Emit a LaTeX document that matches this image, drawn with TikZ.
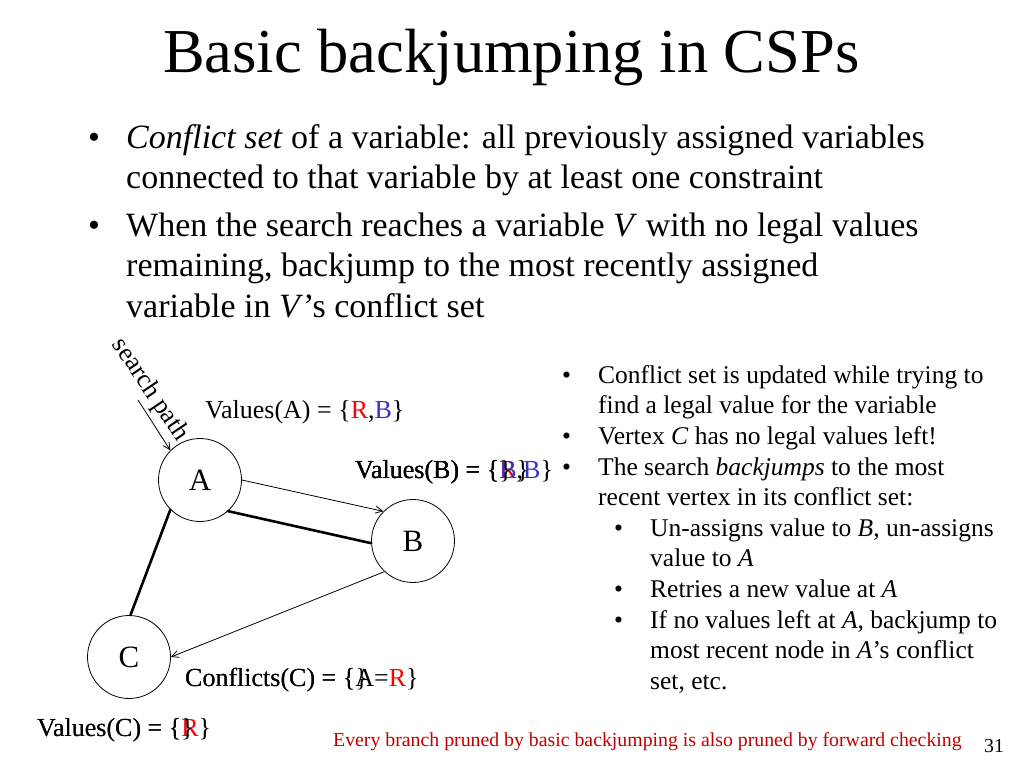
\documentclass[tikz,border=0pt]{standalone}
\usepackage{fontspec}
\setmainfont{Liberation Serif}
\usetikzlibrary{arrows.meta}
\definecolor{valred}{HTML}{FF0000}
\definecolor{valblue}{HTML}{3333CC}
\definecolor{footred}{HTML}{C00000}
\tikzset{
  vert/.style={draw, circle, line width=0.8pt, minimum size=83pt, inner sep=0pt, font=\fontsize{31}{31}\selectfont},
  cons/.style={draw, line width=2.6pt, line cap=round},
  move/.style={draw, line width=0.8pt, -{Straight Barb[length=7pt,width=7pt]}},
  ttl/.style={font=\fontsize{62.5}{62.5}\selectfont, anchor=base west, inner sep=0pt},
  body/.style={font=\fontsize{34}{40.5}\selectfont, align=left, anchor=base west, inner sep=0pt},
  side/.style={font=\fontsize{25.5}{30.7}\selectfont, align=left, anchor=base west, inner sep=0pt},
  lab/.style={font=\fontsize{26}{30}\selectfont, anchor=base west, inner sep=0pt},
  foot/.style={font=\fontsize{19.8}{20}\selectfont, anchor=base west, inner sep=0pt},
}
\begin{document}
\begin{tikzpicture}[x=1pt,y=-1pt]
  \useasboundingbox (0,0) rectangle (1024,768);
  \node[ttl] (title) at (163,72) {Basic backjumping in CSPs};

  % top bullets (multi-line nodes sit on their last baseline)
  \node[body] (dot1) at (88,148) {\textbullet};
  \node[body] (txt1) at (126,188.5) {\textit{Conflict set} of a variable: all previously assigned variables\\connected to that variable by at least one constraint};
  \node[body] (dot2) at (88,236) {\textbullet};
  \node[body] (txt2) at (126,317) {When the search reaches a variable \textit{V} with no legal values\\remaining, backjump to the most recently assigned\\variable in \textit{V}'s conflict set};

  % the graph
  \node[vert] (A) at (200,480) {A};
  \node[vert] (B) at (413,541) {B};
  \node[vert] (C) at (129,657) {C};
  \coordinate (start) at (138,400);
  \draw[cons] (A.-48) -- (B.183);
  \draw[cons] (A.-135) -- (C.88);
  \draw[move] (A.east) -- (B.north west);
  \draw[move] (B.-133) -- (C.east);
  \draw[move] (start) -- (A.north west);
  \node[lab, anchor=center, rotate=-56] (path) at (150,390) {search path};

  % values and conflicts
  \node[lab] (valA) at (205,418) {Values(A) = \{\textcolor{valred}{R},\textcolor{valblue}{B}\}};
  \node[lab] (valB) at (355,478) {Values(B) = \{\textcolor{valred}{R},\textcolor{valblue}{B}\}};
  \node[lab] (valBb) at (355,478) {Values(B) = \{\textcolor{valblue}{B}\}};
  \node[lab] (valBc) at (355,478) {Values(B) = \{\}};
  \node[lab] (confC) at (185,686) {Conflicts(C) = \{A=\textcolor{valred}{R}\}};
  \node[lab] (confCb) at (185,686) {Conflicts(C) = \{\}};
  \node[lab] (valC) at (37,736) {Values(C) = \{\textcolor{valred}{R}\}};
  \node[lab] (valCb) at (37,736) {Values(C) = \{\}};

  % side notes
  \node[side] (s1) at (562,383) {\textbullet};
  \node[side] (n1) at (598,413.7) {Conflict set is updated while trying to\\find a legal value for the variable};
  \node[side] (s2) at (562,444) {\textbullet};
  \node[side] (n2) at (598,444) {Vertex \textit{C} has no legal values left!};
  \node[side] (s3) at (562,475) {\textbullet};
  \node[side] (n3) at (598,505.7) {The search \textit{backjumps} to the most\\recent vertex in its conflict set:};
  \node[side] (s4) at (614,536) {\textbullet};
  \node[side] (n4) at (650,566.7) {Un-assigns value to \textit{B}, un-assigns\\value to \textit{A}};
  \node[side] (s5) at (614,597) {\textbullet};
  \node[side] (n5) at (650,597) {Retries a new value at \textit{A}};
  \node[side] (s6) at (614,628) {\textbullet};
  \node[side] (n6) at (650,689.4) {If no values left at \textit{A}, backjump to\\most recent node in \textit{A}'s conflict\\set, etc.};

  % footer
  \node[foot, text=footred] (note) at (333,746) {Every branch pruned by basic backjumping is also pruned by forward checking};
  \node[foot] (page) at (984,752) {31};
\end{tikzpicture}
\end{document}
